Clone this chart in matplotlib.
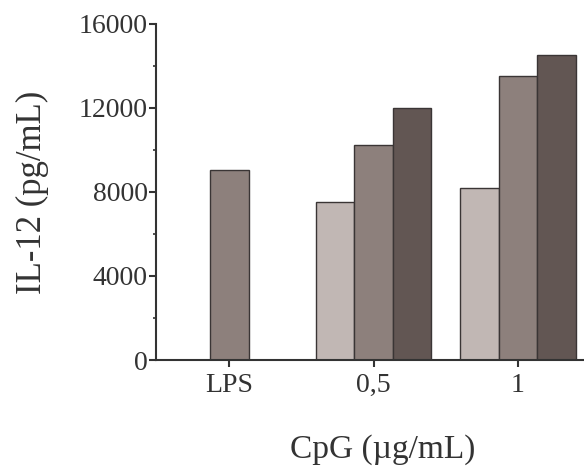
import matplotlib.pyplot as plt
import numpy as np
from matplotlib.ticker import MultipleLocator

plt.rcParams['font.family'] = ['Liberation Serif', 'DejaVu Serif']

categories = ['LPS', '0,5', '1']
# three series per CpG dose; LPS has only the middle series
serie_1 = [np.nan, 7500, 8200]
serie_2 = [9050, 10250, 13500]
serie_3 = [np.nan, 12000, 14500]
colores = ['#c1b7b4', '#8d807c', '#625653']

fig = plt.figure(figsize=(5.84, 4.75), dpi=100)
ax = fig.add_axes([0.267, 0.2421, 0.735, 0.7074])

x = np.arange(len(categories))
w = 0.267
for i, (serie, c) in enumerate(zip([serie_1, serie_2, serie_3], colores)):
    ax.bar(x + (i - 1) * w, serie, w, color=c, edgecolor='#3a3535', linewidth=1.0)

ax.set_xlim(-0.508, 2.465)
ax.set_ylim(0, 16000)
ax.set_xticks(x)
ax.set_xticklabels(categories)
ax.yaxis.set_major_locator(MultipleLocator(4000))
ax.yaxis.set_minor_locator(MultipleLocator(2000))

for s in ['top', 'right']:
    ax.spines[s].set_visible(False)
for s in ['left', 'bottom']:
    ax.spines[s].set_linewidth(1.5)
    ax.spines[s].set_color('#333333')

ax.tick_params(axis='both', which='major', labelsize=20, colors='#333333',
               width=1.5, length=5, pad=4)
ax.tick_params(axis='y', which='minor', width=1.2, length=2.5, colors='#333333')
ax.tick_params(axis='y', pad=1)

ax.set_ylabel('IL-12 (pg/mL)', fontsize=25, color='#333333', labelpad=21)
ax.set_xlabel('CpG (µg/mL)', fontsize=24, color='#333333')
ax.xaxis.set_label_coords((383 - 156) / (585 - 156), -0.22)

plt.savefig('out.png', dpi=100)
